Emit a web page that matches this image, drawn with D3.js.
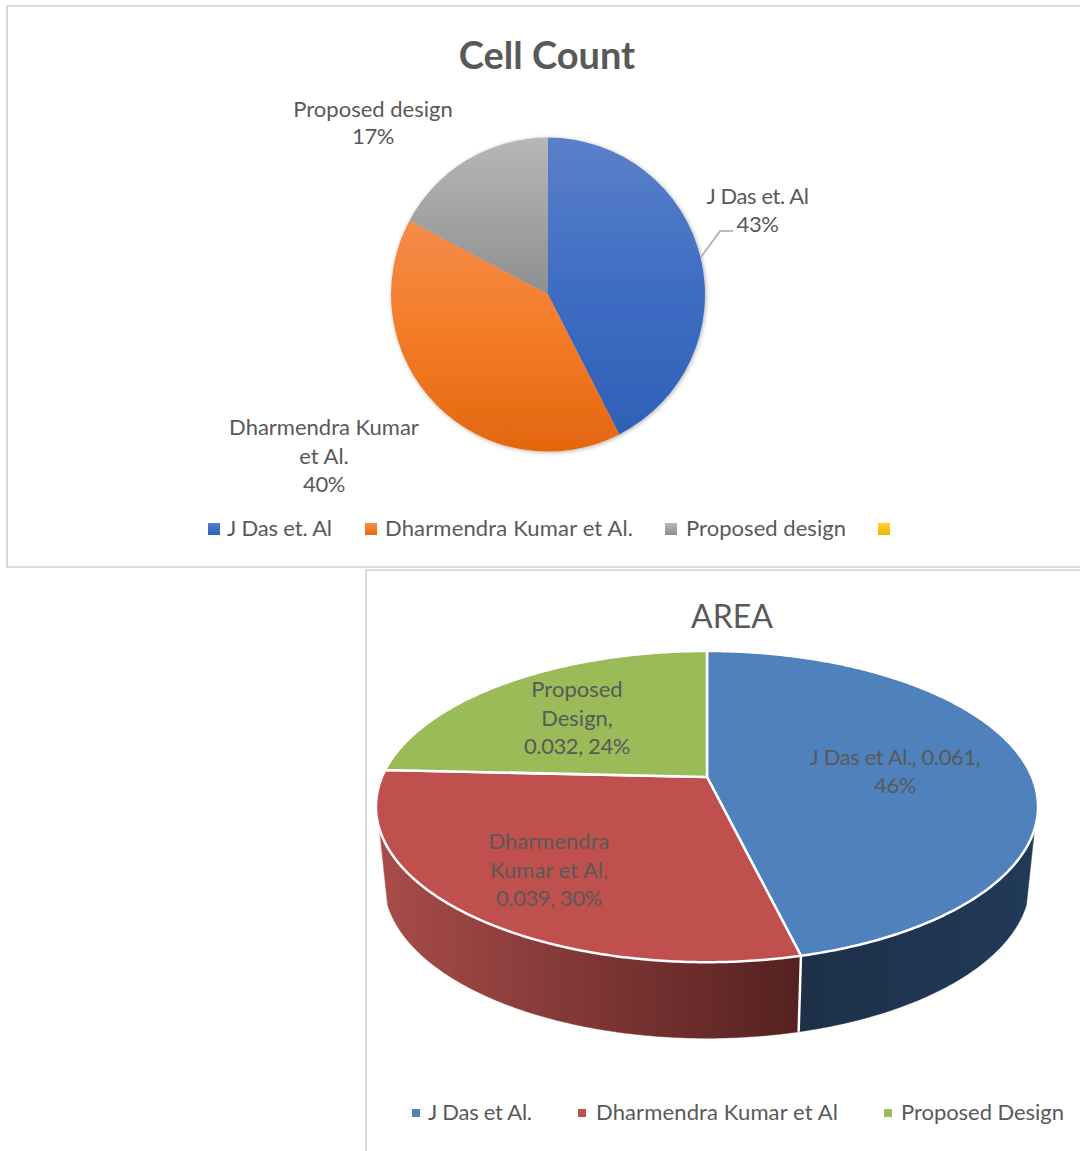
<!DOCTYPE html>
<html>
<head>
<meta charset="utf-8">
<script src="https://cdn.jsdelivr.net/npm/d3@7"></script>
<style>
    html, body { margin: 0; padding: 0; background: #fff; overflow: hidden; }
    text { font-family: Lato, "Open Sans", sans-serif; fill: #595959; }
</style>
</head>
<body>
<svg id="graph_svg" width="1080" height="1151"></svg>
<script>
// Cell Count pie (slice sizes, labels as printed)
const cellLabels = ["J Das et. Al", "Dharmendra Kumar et Al.", "Proposed design"];
const cellValues = [42.5, 40.3, 17.2];
const cellPercents = ["43%", "40%", "17%"];
const cellLegend = ["J Das et. Al", "Dharmendra Kumar et Al.", "Proposed design", ""];

// AREA pie
const areaLabels = ["J Das et Al.", "Dharmendra Kumar et Al", "Proposed Design"];
const areaValues = [0.061, 0.039, 0.032];
const areaPercents = ["46%", "30%", "24%"];

const svg = d3.select("#graph_svg");
const defs = svg.append("defs");

function addGradient(id, stops, horizontal) {
    const g = defs.append("linearGradient")
        .attr("id", id)
        .attr("x1", 0).attr("y1", 0)
        .attr("x2", horizontal ? 1 : 0).attr("y2", horizontal ? 0 : 1);
    stops.forEach((color, i) => {
        g.append("stop")
            .attr("offset", (100 * i / (stops.length - 1)) + "%")
            .attr("stop-color", color);
    });
}

addGradient("cellBlue", ["#5b80c9", "#3f6dc4", "#2e61b6"]);
addGradient("cellOrange", ["#f58c4a", "#f47b27", "#e4660f"]);
addGradient("cellGray", ["#b7b7b7", "#8f8f8f"]);
addGradient("cellYellow", ["#ffcf33", "#f0b400"]);
addGradient("wallRed", ["#a84c4a", "#552120"], true);
addGradient("wallBlue", ["#1d3048", "#213a59"], true);

const shadow = defs.append("filter").attr("id", "pieShadow")
    .attr("x", "-10%").attr("y", "-10%").attr("width", "120%").attr("height", "120%");
shadow.append("feDropShadow")
    .attr("dx", 1).attr("dy", 1).attr("stdDeviation", 2)
    .attr("flood-color", "#000").attr("flood-opacity", 0.3);

// frames
function frame(x, y) {
    svg.append("rect")
        .attr("x", x).attr("y", y)
        .attr("width", 1200).attr("height", 1200)
        .attr("fill", "#fff")
        .attr("stroke", "#d9d9d9")
        .attr("stroke-width", 2);
}

function multiLine(lines, x, firstY, size, step) {
    const t = svg.append("text")
        .attr("text-anchor", "middle")
        .attr("font-size", size);
    lines.forEach((line, i) => {
        t.append("tspan")
            .attr("x", x)
            .attr("y", firstY + i * step)
            // Lato runs wider than the original on digits and on "J Das"
            .attr("letter-spacing", /\d|J Das/.test(line) ? -0.4 : 0)
            .text(line);
    });
}

function drawLegend(labels, xs, textXs, widths, y, size, fills, box) {
    labels.forEach((label, i) => {
        svg.append("rect")
            .attr("x", xs[i]).attr("y", y - box / 2 - 7)
            .attr("width", box).attr("height", box)
            .attr("fill", fills[i]);
        if (!label) return;
        svg.append("text")
            .attr("x", textXs[i]).attr("y", y)
            .attr("font-size", size)
            .attr("textLength", widths[i])
            .text(label);
    });
}

function drawCellCount() {
    frame(7, 6);
    svg.append("rect").attr("x", 0).attr("y", 568).attr("width", 1080).attr("height", 600).attr("fill", "#fff");
    svg.append("line").attr("x1", 7).attr("x2", 1080).attr("y1", 567).attr("y2", 567)
        .attr("stroke", "#d9d9d9").attr("stroke-width", 2);

    svg.append("text")
        .attr("x", 547).attr("y", 69)
        .attr("text-anchor", "middle")
        .attr("font-size", 38)
        .attr("font-weight", 700)
        .text("Cell Count");

    const pie = d3.pie().sort(null);
    const arc = d3.arc().innerRadius(0).outerRadius(157);
    const fills = ["url(#cellBlue)", "url(#cellOrange)", "url(#cellGray)"];

    svg.append("g")
        .attr("transform", "translate(548,294.5)")
        .attr("filter", "url(#pieShadow)")
        .selectAll("path")
        .data(pie(cellValues))
        .enter()
        .append("path")
        .attr("d", arc)
        .attr("fill", (d, i) => fills[i]);

    // leader line of the first label
    svg.append("polyline")
        .attr("points", "701,257 720,231 733,231")
        .attr("fill", "none")
        .attr("stroke", "#a6a6a6")
        .attr("stroke-width", 1.5);

    multiLine([cellLabels[0], cellPercents[0]], 757.5, 204, 22, 28);
    multiLine(["Dharmendra Kumar", "et Al.", cellPercents[1]], 324, 435, 22, 28.5);
    multiLine([cellLabels[2], cellPercents[2]], 373, 117, 22, 27);

    drawLegend(cellLegend, [208, 365, 665, 878], [227, 385, 686, 0], [105, 248, 160, 0], 536, 22,
        ["url(#cellBlue)", "url(#cellOrange)", "url(#cellGray)", "url(#cellYellow)"], 12);
}

function drawArea() {
    frame(366, 570);

    svg.append("text")
        .attr("x", 732).attr("y", 628)
        .attr("text-anchor", "middle")
        .attr("font-size", 32)
        .text("AREA");

    // tilted disc: the circle goes through a perspective projection
    const apexX = 707, apexY = 777;
    const radiusX = 325, radiusY = 150, tilt = 0.19;
    const depth = 76, bottomScale = 0.975;

    function project(angle, lower) {
        const u = Math.sin(angle), v = -Math.cos(angle);
        const w = 1 - tilt * v;
        const k = lower ? bottomScale : 1;
        return [apexX + k * radiusX * u / w,
                apexY + radiusY * v / w + (lower ? depth : 0)];
    }

    function sampleAngles(a0, a1) {
        const n = Math.max(2, Math.ceil(Math.abs(a1 - a0) / 0.01));
        return d3.range(n + 1).map(i => a0 + (a1 - a0) * i / n);
    }

    const line = d3.line();
    const slices = d3.pie().sort(null)(areaValues);
    const topFills = ["#4f81bd", "#c0504d", "#9bbb59"];
    const wallFills = ["url(#wallBlue)", "url(#wallRed)", null];

    // front of the disc is visible between these two angles
    const frontStart = Math.acos(-0.325);
    const frontEnd = 2 * Math.PI - frontStart;

    slices.forEach((d, i) => {
        const a0 = Math.max(d.startAngle, frontStart);
        const a1 = Math.min(d.endAngle, frontEnd);
        if (a1 <= a0 || !wallFills[i]) return;
        const angles = sampleAngles(a0, a1);
        const pts = angles.map(a => project(a, false))
            .concat(angles.slice().reverse().map(a => project(a, true)));
        svg.append("path")
            .attr("d", line(pts) + "Z")
            .attr("fill", wallFills[i])
            .attr("stroke", wallFills[i])
            .attr("stroke-width", 0.5);
    });

    // white edge between the two walls
    const seam = slices[0].endAngle;
    svg.append("path")
        .attr("d", line([project(seam, false), project(seam, true)]))
        .attr("stroke", "#fff")
        .attr("stroke-width", 2.5);

    slices.forEach((d, i) => {
        const pts = [[apexX, apexY]].concat(
            sampleAngles(d.startAngle, d.endAngle).map(a => project(a, false)));
        svg.append("path")
            .attr("d", line(pts) + "Z")
            .attr("fill", topFills[i])
            .attr("stroke", "#fff")
            .attr("stroke-width", 2.5)
            .attr("stroke-linejoin", "round");
    });

    multiLine([areaLabels[0] + ", " + areaValues[0] + ",", areaPercents[0]], 895, 765, 22, 28);
    multiLine(["Dharmendra", "Kumar et Al,", areaValues[1] + ", " + areaPercents[1]], 549, 849, 22, 28.5);
    multiLine(["Proposed", "Design,", areaValues[2] + ", " + areaPercents[2]], 577, 697, 22, 28.5);

    drawLegend(areaLabels, [412, 578, 884], [428, 596, 901], [104, 242, 163], 1120, 22, topFills, 8);
}

drawCellCount();
drawArea();
</script>
</body>
</html>
